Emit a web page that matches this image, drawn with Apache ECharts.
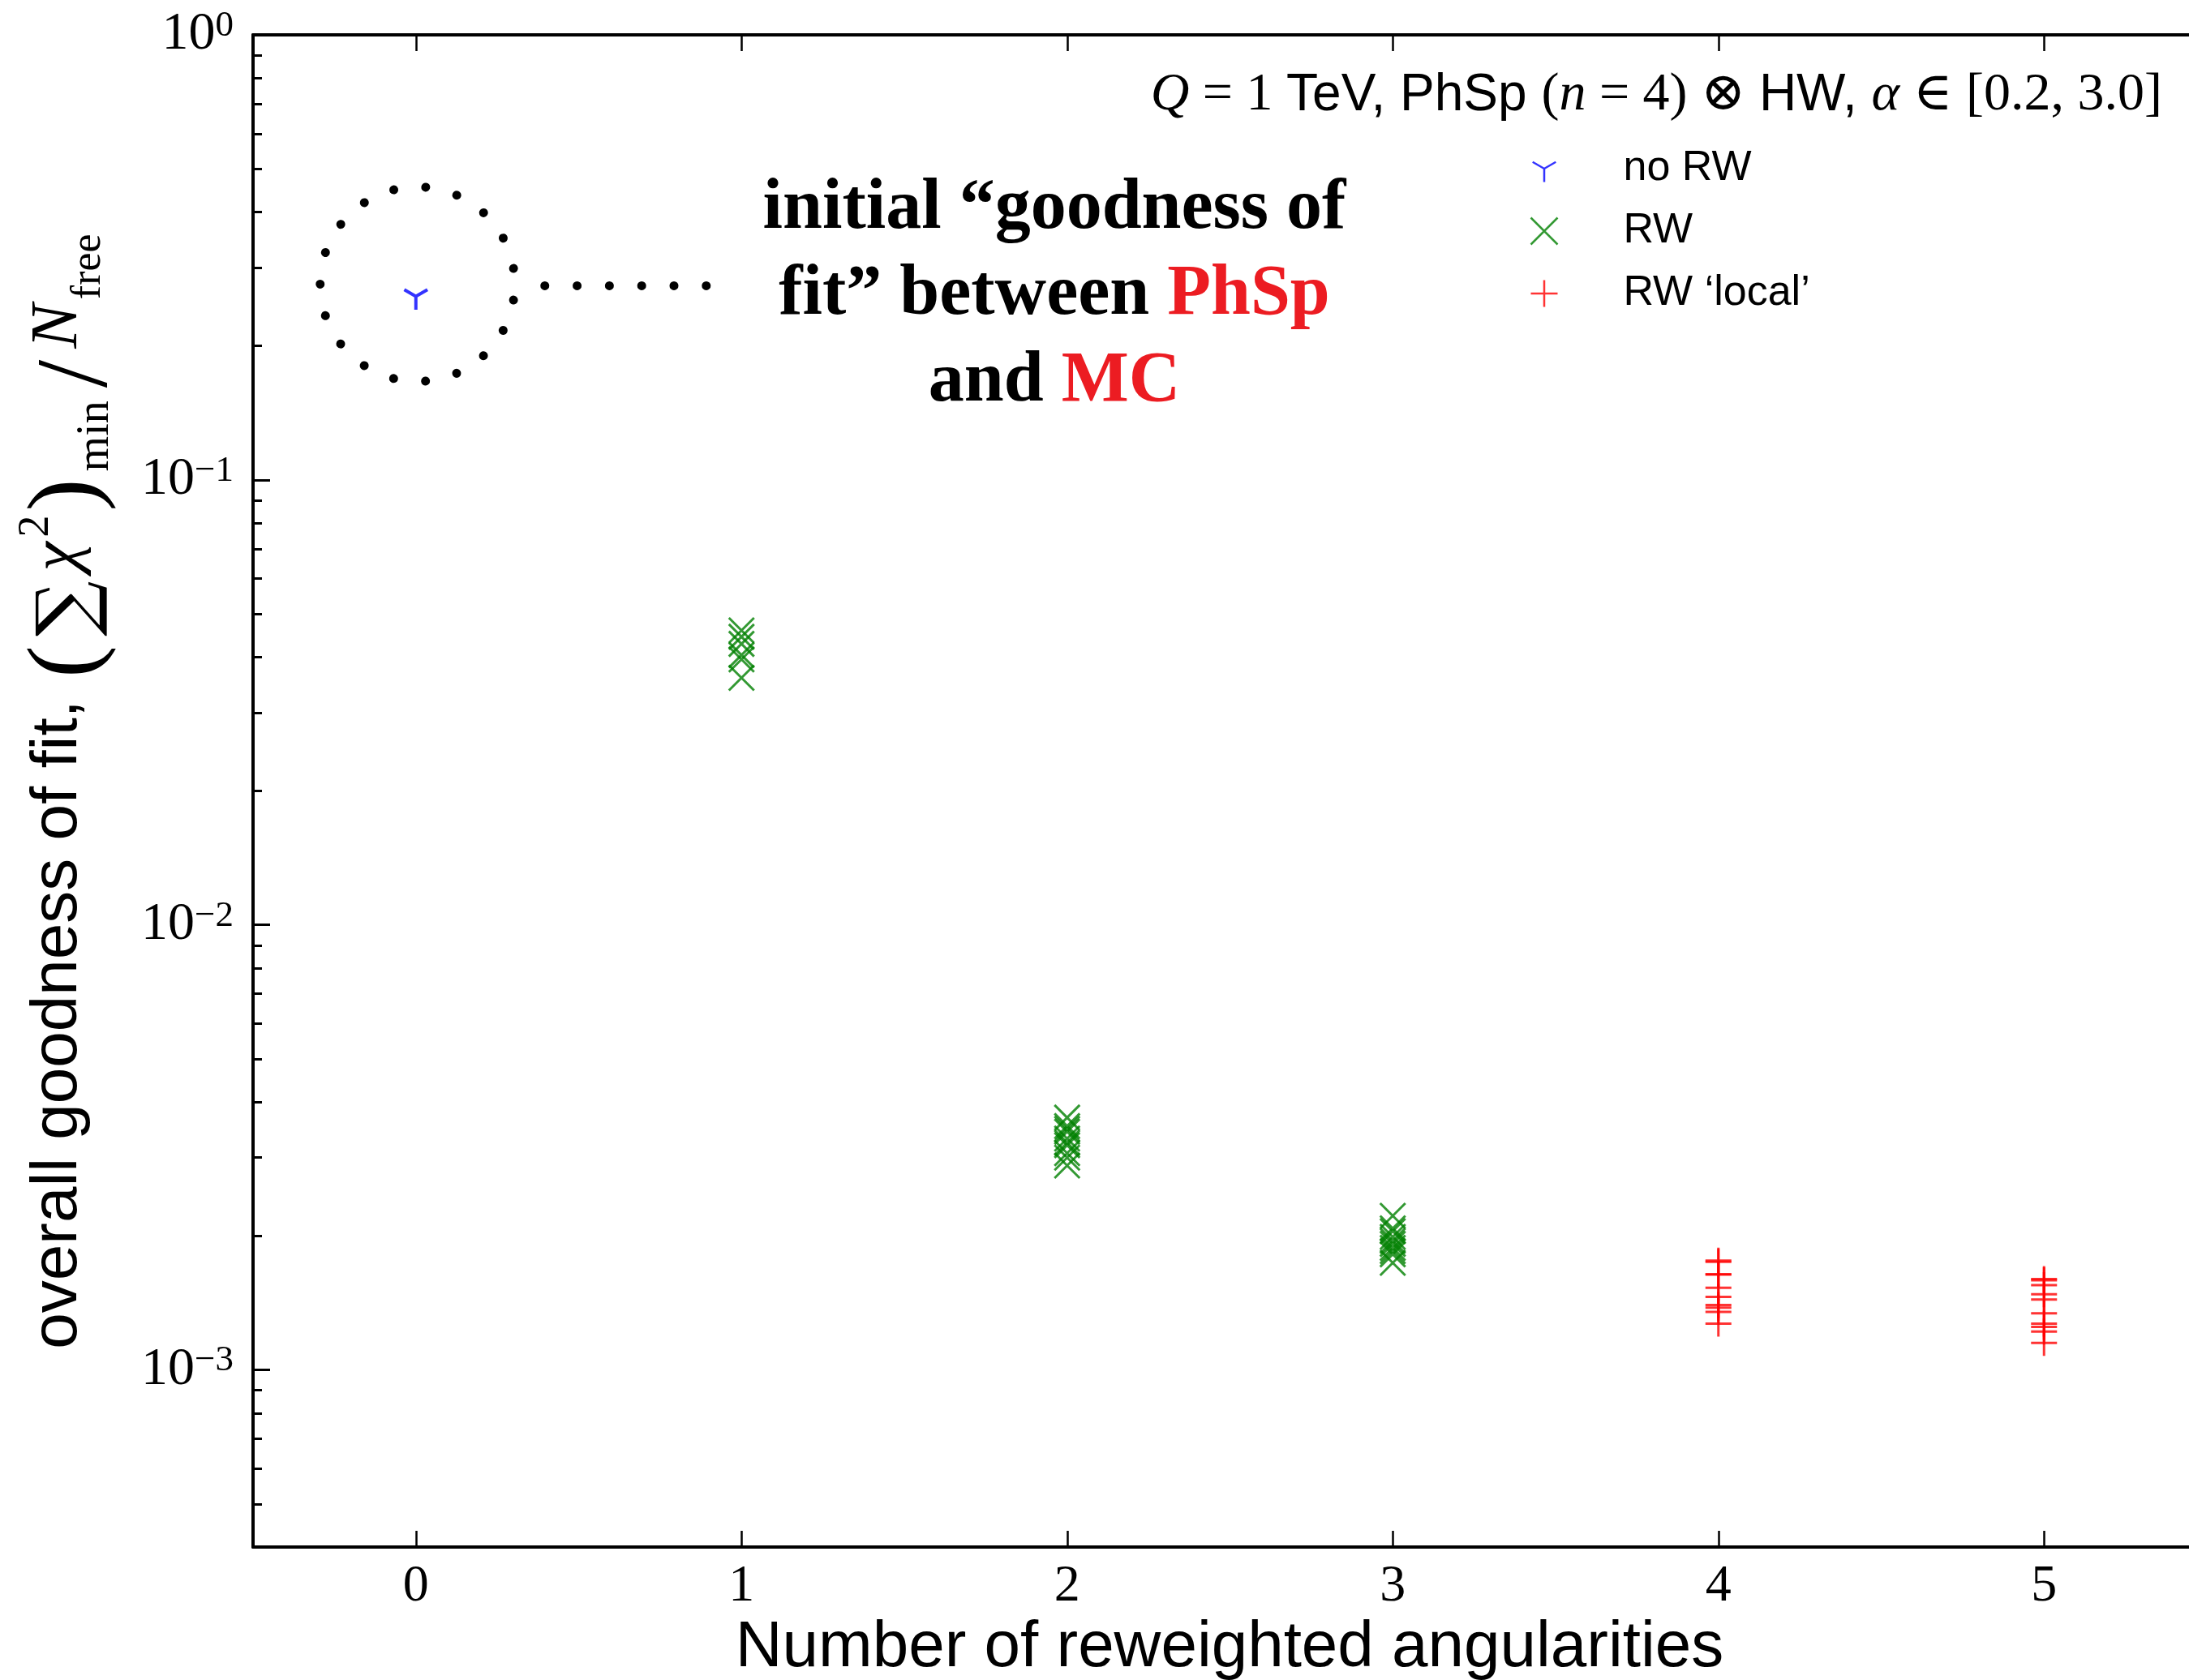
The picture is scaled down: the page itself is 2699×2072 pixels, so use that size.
<!DOCTYPE html>
<html>
<head>
<meta charset="utf-8">
<script src="https://cdn.jsdelivr.net/npm/echarts@6/dist/echarts.min.js"></script>
<style>
html,body{margin:0;padding:0;background:#ffffff;}
#chart{width:2699px;height:2072px;}
</style>
</head>
<body>
<div id="chart"></div>
<script>
// ---------------- data ----------------
const xTickValues = [0, 1, 2, 3, 4, 5];
const yMajorTickValues = [0.001, 0.01, 0.1, 1];
const yMinorTickValues = [0.0004, 0.0005, 0.0006, 0.0007, 0.0008, 0.0009,
  0.002, 0.003, 0.004, 0.005, 0.006, 0.007, 0.008, 0.009,
  0.02, 0.03, 0.04, 0.05, 0.06, 0.07, 0.08, 0.09,
  0.2, 0.3, 0.4, 0.5, 0.6, 0.7, 0.8, 0.9];

const seriesNames = ['no RW', 'RW', 'RW \u2018local\u2019'];

const noRwValues = [0.2585];                                   // x = 0
const rwAt1 = [0.0459, 0.0444, 0.0428, 0.0404, 0.0395, 0.0359];  // x = 1
const rwAt2 = [0.00369, 0.00353, 0.00348, 0.00343, 0.00331, 0.00324, 0.00320, 0.00307, 0.00300, 0.00288];
const rwAt3 = [0.00222, 0.00208, 0.00205, 0.00199, 0.00195, 0.00192, 0.00188, 0.00185, 0.00182, 0.00174];
const localAt4 = [0.00176, 0.00175, 0.00164, 0.00164, 0.00153, 0.00146, 0.00140, 0.00138, 0.00135, 0.00127];
const localAt5 = [0.00160, 0.00159, 0.00155, 0.00148, 0.00144, 0.00134, 0.00127, 0.00125, 0.00122, 0.00115];

// ---------------- styling helpers ----------------
const SERIF = "'Liberation Serif', 'DejaVu Serif', serif";
const SANS = "'Liberation Sans', Arial, sans-serif";
const BLUE = '#0000ff', GREEN = '#008000', RED = '#ff0000', ANN_RED = '#ec1c22';

const TRI_DOWN = 'path://M-1,-1M1,1M0,0L0,1M0,0L-0.866,-0.5M0,0L0.866,-0.5';
const X_MARK = 'path://M-1,-1L1,1M1,-1L-1,1';
const PLUS = 'path://M0,-1L0,1M-1,0L1,0';

const noRwData = noRwValues.map(v => [0, v]);
const rwData = [].concat(rwAt1.map(v => [1, v]), rwAt2.map(v => [2, v]), rwAt3.map(v => [3, v]));
const localData = [].concat(localAt4.map(v => [4, v]), localAt5.map(v => [5, v]));

function powLabel(v) {
  const e = Math.round(Math.log(v) / Math.LN10);
  const s = e < 0 ? '\u2212' + (-e) : String(e);
  return '{b|10}{e|' + s + '}';
}

const GRID_LEFT = 312, GRID_WIDTH = 2409;
const chart = echarts.init(document.getElementById('chart'), null, {renderer: 'canvas'});

const axisLineStyle = {color: '#000', width: 4};
const xTickStyle = {color: '#000', width: 2.5};
const yTickStyle = {color: '#000', width: 3};

chart.setOption({
  animation: false,
  backgroundColor: '#ffffff',
  grid: {left: GRID_LEFT, top: 43, width: GRID_WIDTH, height: 1865, containLabel: false, outerBoundsMode: 'none'},
  legend: {
    orient: 'vertical',
    left: 1885, top: 178,
    padding: 0,
    itemWidth: 33, itemHeight: 33,
    itemGap: 17,
    selectedMode: false,
    textStyle: {fontFamily: SANS, fontSize: 52, color: '#000', lineHeight: 60, padding: [0, 0, 0, 76]},
    data: [
      {name: seriesNames[0], icon: TRI_DOWN, itemStyle: {color: 'none', borderColor: BLUE, borderWidth: 2.5}},
      {name: seriesNames[1], icon: X_MARK, itemStyle: {color: 'none', borderColor: GREEN, borderWidth: 2.5}},
      {name: seriesNames[2], icon: PLUS, itemStyle: {color: 'none', borderColor: RED, borderWidth: 2.5}}
    ]
  },
  xAxis: [{
    type: 'value', min: -0.5, max: 5.5, position: 'bottom',
    axisLine: {show: true, onZero: false, lineStyle: axisLineStyle},
    axisTick: {show: true, inside: true, length: 20, customValues: xTickValues, lineStyle: xTickStyle},
    axisLabel: {show: true, customValues: xTickValues, margin: 17, fontFamily: SERIF, fontSize: 64, color: '#000'},
    splitLine: {show: false}
  }, {
    type: 'value', min: -0.5, max: 5.5, position: 'top',
    axisLine: {show: true, onZero: false, lineStyle: axisLineStyle},
    axisTick: {show: true, inside: true, length: 20, customValues: xTickValues, lineStyle: xTickStyle},
    axisLabel: {show: false},
    splitLine: {show: false}
  }],
  yAxis: [{
    type: 'log', logBase: 10, min: 0.0004, max: 1, position: 'left',
    axisLine: {show: true, onZero: false, lineStyle: axisLineStyle},
    axisTick: {show: true, inside: true, length: 21, customValues: yMajorTickValues, lineStyle: yTickStyle},
    axisLabel: {
      show: true, customValues: yMajorTickValues, margin: 24,
      formatter: powLabel,
      rich: {
        b: {fontFamily: SERIF, fontSize: 66, color: '#000', verticalAlign: 'middle'},
        e: {fontFamily: SERIF, fontSize: 45, color: '#000', verticalAlign: 'middle', padding: [0, 0, 22, 0]}
      }
    },
    splitLine: {show: false}, minorTick: {show: false}
  }, {
    // minor ticks: a second log axis moved onto the left spine
    type: 'log', logBase: 10, min: 0.0004, max: 1, position: 'right', offset: -GRID_WIDTH,
    axisLine: {show: false, onZero: false},
    axisTick: {show: true, inside: false, length: 11, customValues: yMinorTickValues, lineStyle: yTickStyle},
    axisLabel: {show: false},
    splitLine: {show: false}
  }],
  series: [{
    name: seriesNames[0], type: 'scatter', xAxisIndex: 0, yAxisIndex: 0,
    data: noRwData, symbol: TRI_DOWN, symbolSize: 33,
    itemStyle: {color: 'none', borderColor: BLUE, borderWidth: 4},
    emphasis: {disabled: true}
  }, {
    name: seriesNames[1], type: 'scatter', xAxisIndex: 0, yAxisIndex: 0,
    data: rwData, symbol: X_MARK, symbolSize: 31,
    itemStyle: {color: 'none', borderColor: GREEN, borderWidth: 3},
    emphasis: {disabled: true}
  }, {
    name: seriesNames[2], type: 'scatter', xAxisIndex: 0, yAxisIndex: 0,
    data: localData, symbol: PLUS, symbolSize: 32,
    itemStyle: {color: 'none', borderColor: RED, borderWidth: 3},
    emphasis: {disabled: true}
  }]
});

// ---------------- annotations / titles ----------------
const anchor = chart.convertToPixel({xAxisIndex: 0, yAxisIndex: 0}, noRwData[0]);
const cx = anchor[0] + 2, cy = anchor[1] - 15, R = 120;

function txt(x, y, text, rich, extra) {
  return {
    type: 'text', x: x, y: y, silent: true,
    style: Object.assign({text: text, rich: rich, fill: '#000'}, extra || {})
  };
}

const annRich = {
  b: {fontFamily: SERIF, fontWeight: 'bold', fontSize: 88, fill: '#000', verticalAlign: 'middle'},
  r: {fontFamily: SERIF, fontWeight: 'bold', fontSize: 88, fill: ANN_RED, verticalAlign: 'middle'}
};
const titleRich = {
  mi: {fontFamily: SERIF, fontStyle: 'italic', fontSize: 66, fill: '#000', verticalAlign: 'middle'},
  m: {fontFamily: SERIF, fontSize: 66, fill: '#000', verticalAlign: 'middle'},
  s: {fontFamily: SANS, fontSize: 64, fill: '#000', verticalAlign: 'middle'}
};
const yTitleRich = {
  s: {fontFamily: SANS, fontSize: 80, fill: '#000', verticalAlign: 'middle'},
  p: {fontFamily: SERIF, fontSize: 120, fill: '#000', verticalAlign: 'middle', padding: [26, 5, 0, 5]},
  sum: {fontFamily: "'DejaVu Serif', serif", fontSize: 96, fill: '#000', verticalAlign: 'middle', padding: [32, 8, 0, 6]},
  mi: {fontFamily: SERIF, fontStyle: 'italic', fontSize: 82, fill: '#000', verticalAlign: 'middle', padding: [0, 2, 0, 4]},
  sl: {fontFamily: SERIF, fontSize: 124, fill: '#000', verticalAlign: 'middle', padding: [53, 10, 0, 16]},
  sup: {fontFamily: SERIF, fontSize: 54, fill: '#000', verticalAlign: 'middle', padding: [0, 0, 54, 4]},
  sub: {fontFamily: SERIF, fontSize: 56, fill: '#000', verticalAlign: 'middle', padding: [92, 0, 0, 4]},
  sub2: {fontFamily: SERIF, fontSize: 52, fill: '#000', verticalAlign: 'middle', padding: [74, 0, 0, 4]}
};

chart.setOption({
  graphic: [
    {
      type: 'circle', silent: true,
      shape: {cx: cx, cy: cy, r: R},
      style: {fill: 'none', stroke: '#000', lineWidth: 11, lineCap: 'round', lineDash: [0.01, 2 * Math.PI * R / 19], lineDashOffset: 20}
    },
    {
      type: 'line', silent: true,
      shape: {x1: cx + 157, y1: cy + 2, x2: cx + 358, y2: cy + 2},
      style: {stroke: '#000', lineWidth: 11, lineCap: 'round', lineDash: [0.01, 39.8]}
    },
    txt(1300, 258, '{b|initial \u201Cgoodness of}', annRich, {align: 'center', verticalAlign: 'middle'}),
    txt(1300, 364, '{b|fit\u201D between }{r|PhSp}', annRich, {align: 'center', verticalAlign: 'middle'}),
    txt(1300, 471, '{b|and }{r|MC}', annRich, {align: 'center', verticalAlign: 'middle'}),
    txt(2666, 118,
      '{mi|Q}{m| = 1 }{s|TeV, PhSp }{m|(}{mi|n}{m| = 4) \u2297 }{s|HW, }{mi|\u03B1}{m| \u2208 [0.2, 3.0]}',
      titleRich, {align: 'right', verticalAlign: 'middle'}),
    txt(1516, 2033, 'Number of reweighted angularities', null,
      {fontFamily: SANS, fontSize: 80, align: 'center', verticalAlign: 'middle'}),
    Object.assign(txt(72, 976,
      '{s|overall goodness of fit, }{p|(}{sum|\u2211}{mi|\u03C7}{sup|2}{p|)}{sub|min}{sl|/}{mi|N}{sub2|free}',
      yTitleRich, {align: 'center', verticalAlign: 'middle'}), {rotation: Math.PI / 2})
  ]
});
</script>
</body>
</html>
